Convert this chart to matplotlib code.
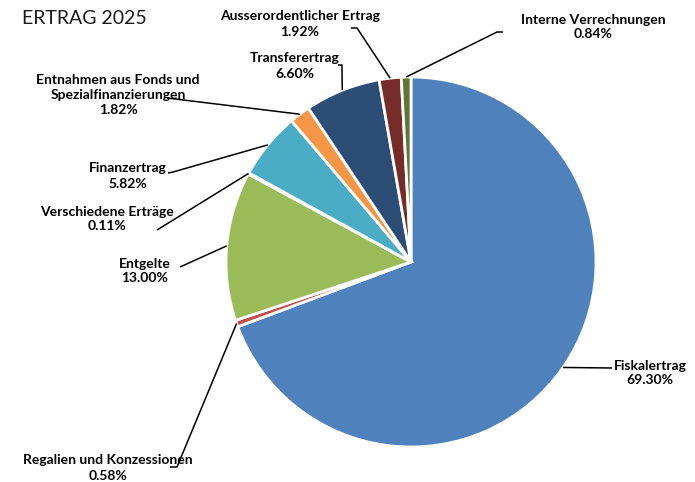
import numpy as np
import matplotlib
matplotlib.use("Agg")
import matplotlib.pyplot as plt

categories = ["Fiskalertrag", "Regalien und Konzessionen", "Entgelte",
              "Verschiedene Erträge", "Finanzertrag",
              "Entnahmen aus Fonds und\nSpezialfinanzierungen",
              "Transferertrag", "Ausserordentlicher Ertrag",
              "Interne Verrechnungen"]
values = [69.30, 0.58, 13.00, 0.11, 5.82, 1.82, 6.60, 1.92, 0.84]
colors = ["#4F81BD", "#C0504D", "#9BBB59", "#8064A2", "#4BACC6",
          "#F79646", "#2C4D75", "#772C2A", "#5F7530"]

W, H = 695, 482
# layout (image pixel coords): label text centre, leader end at label side, hook end
label_pos = [(650, 373), (108, 468), (145, 271), (107, 219), (128, 176),
             (118, 95), (295, 66), (300, 24), (593, 27)]
leader_end = [(612, 368), (177, 467), (180, 267), (157, 230), (173, 172),
              (167, 98), (342, 65), (357, 28), (497, 32)]
hook_end = [None, (170, 467), None, None, (168, 173), None, (338, 65), (351, 28), (503, 32)]

def Y(y):
    return H - y

fig = plt.figure(figsize=(W / 100, H / 100), dpi=100)
ax = fig.add_axes([0, 0, 1, 1])

cx, cy, r = 411, Y(262), 185
wedges, _ = ax.pie(values, colors=colors, startangle=90, counterclock=False,
                   center=(cx, cy), radius=r, frame=True,
                   wedgeprops=dict(edgecolor="white", linewidth=2))
ax.set_xlim(0, W)
ax.set_ylim(0, H)
ax.set_aspect("equal")
ax.axis("off")

font = ["Lato", "DejaVu Sans"]
for w, cat, v, lp, le, he in zip(wedges, categories, values, label_pos, leader_end, hook_end):
    ang = np.deg2rad((w.theta1 + w.theta2) / 2)
    ax_x = cx + r * np.cos(ang)
    ax_y = cy + r * np.sin(ang)
    xs = [ax_x, le[0]]
    ys = [ax_y, Y(le[1])]
    if he is not None:
        xs.append(he[0]); ys.append(Y(he[1]))
    ax.plot(xs, ys, color="black", lw=1.1, solid_capstyle="butt")
    ax.text(lp[0], Y(lp[1]), f"{cat}\n{v:.2f}%", ha="center", va="center",
            fontsize=10, fontweight="bold", family=font, linespacing=1.3)

ax.text(22, Y(18), "ERTRAG 2025", ha="left", va="center", fontsize=14,
        family=font, color="#1a1a1a")

fig.savefig("out.png", dpi=100)
